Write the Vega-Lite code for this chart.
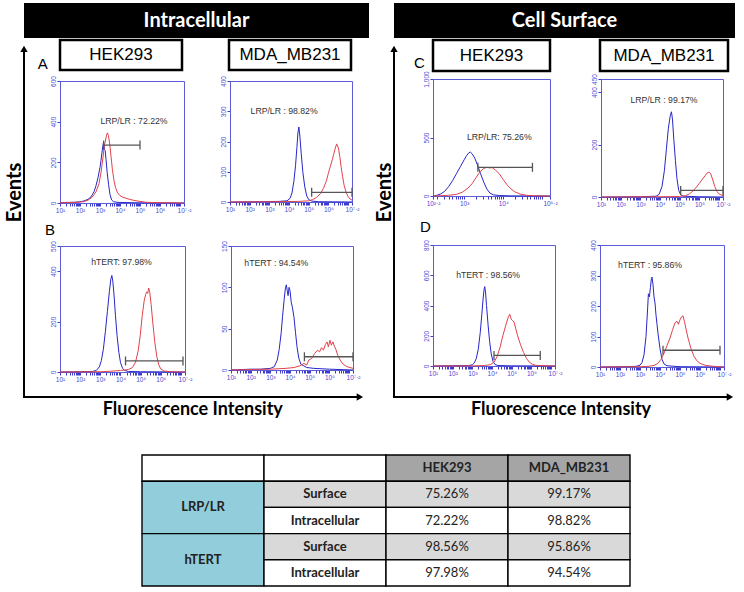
{
"padding": {"left": 4, "top": 3, "right": 0, "bottom": 0},
"config": {
  "view": {"stroke": null},
  "font": "Liberation Sans",
  "axisX": {"domainColor": "#5c5cd6", "tickColor": "#3c3cd0", "labelColor": "#4a4ad4", "labelFontSize": 6.5, "labelFont": "Liberation Sans", "tickSize": 3, "labelPadding": 1, "grid": false},
  "axisY": {"domainColor": "#5c5cd6", "tickColor": "#3c3cd0", "labelColor": "#4a4ad4", "labelFontSize": 6.5, "labelFont": "Liberation Sans", "tickSize": 3, "labelPadding": 1, "labelAngle": 270, "grid": false}
},
"datasets": {
"hist": [
{"panel":"A1","stain":"control","fi":1,"events":2},{"panel":"A1","stain":"control","fi":1.4,"events":3},{"panel":"A1","stain":"control","fi":1.8,"events":4},{"panel":"A1","stain":"control","fi":2.0,"events":6},{"panel":"A1","stain":"control","fi":2.2,"events":10},{"panel":"A1","stain":"control","fi":2.4,"events":18},{"panel":"A1","stain":"control","fi":2.55,"events":30},{"panel":"A1","stain":"control","fi":2.7,"events":55},{"panel":"A1","stain":"control","fi":2.8,"events":85},{"panel":"A1","stain":"control","fi":2.9,"events":125},{"panel":"A1","stain":"control","fi":3.0,"events":175},{"panel":"A1","stain":"control","fi":3.05,"events":210},{"panel":"A1","stain":"control","fi":3.1,"events":250},{"panel":"A1","stain":"control","fi":3.15,"events":285},{"panel":"A1","stain":"control","fi":3.18,"events":300},{"panel":"A1","stain":"control","fi":3.22,"events":262},{"panel":"A1","stain":"control","fi":3.26,"events":258},{"panel":"A1","stain":"control","fi":3.3,"events":215},{"panel":"A1","stain":"control","fi":3.36,"events":150},{"panel":"A1","stain":"control","fi":3.43,"events":90},{"panel":"A1","stain":"control","fi":3.5,"events":42},{"panel":"A1","stain":"control","fi":3.58,"events":15},{"panel":"A1","stain":"control","fi":3.68,"events":6},{"panel":"A1","stain":"control","fi":3.9,"events":3},{"panel":"A1","stain":"control","fi":4.3,"events":2},{"panel":"A1","stain":"control","fi":5,"events":1},{"panel":"A1","stain":"control","fi":6,"events":1},{"panel":"A1","stain":"control","fi":7.2,"events":0},
{"panel":"A1","stain":"target","fi":1,"events":1},{"panel":"A1","stain":"target","fi":1.8,"events":3},{"panel":"A1","stain":"target","fi":2.2,"events":7},{"panel":"A1","stain":"target","fi":2.4,"events":14},{"panel":"A1","stain":"target","fi":2.6,"events":28},{"panel":"A1","stain":"target","fi":2.8,"events":55},{"panel":"A1","stain":"target","fi":2.95,"events":95},{"panel":"A1","stain":"target","fi":3.05,"events":150},{"panel":"A1","stain":"target","fi":3.15,"events":225},{"panel":"A1","stain":"target","fi":3.22,"events":285},{"panel":"A1","stain":"target","fi":3.27,"events":305},{"panel":"A1","stain":"target","fi":3.32,"events":330},{"panel":"A1","stain":"target","fi":3.37,"events":345},{"panel":"A1","stain":"target","fi":3.42,"events":332},{"panel":"A1","stain":"target","fi":3.48,"events":295},{"panel":"A1","stain":"target","fi":3.55,"events":230},{"panel":"A1","stain":"target","fi":3.62,"events":165},{"panel":"A1","stain":"target","fi":3.7,"events":110},{"panel":"A1","stain":"target","fi":3.78,"events":75},{"panel":"A1","stain":"target","fi":3.88,"events":50},{"panel":"A1","stain":"target","fi":4.0,"events":36},{"panel":"A1","stain":"target","fi":4.15,"events":28},{"panel":"A1","stain":"target","fi":4.35,"events":22},{"panel":"A1","stain":"target","fi":4.55,"events":16},{"panel":"A1","stain":"target","fi":4.8,"events":11},{"panel":"A1","stain":"target","fi":5.05,"events":7},{"panel":"A1","stain":"target","fi":5.35,"events":3},{"panel":"A1","stain":"target","fi":5.8,"events":2},{"panel":"A1","stain":"target","fi":6.5,"events":1},{"panel":"A1","stain":"target","fi":7.2,"events":0},
{"panel":"A2","stain":"control","fi":1,"events":0},{"panel":"A2","stain":"control","fi":2.5,"events":1},{"panel":"A2","stain":"control","fi":3.5,"events":2},{"panel":"A2","stain":"control","fi":3.9,"events":4},{"panel":"A2","stain":"control","fi":4.05,"events":12},{"panel":"A2","stain":"control","fi":4.15,"events":30},{"panel":"A2","stain":"control","fi":4.25,"events":70},{"panel":"A2","stain":"control","fi":4.33,"events":120},{"panel":"A2","stain":"control","fi":4.4,"events":180},{"panel":"A2","stain":"control","fi":4.45,"events":228},{"panel":"A2","stain":"control","fi":4.5,"events":248},{"panel":"A2","stain":"control","fi":4.55,"events":218},{"panel":"A2","stain":"control","fi":4.62,"events":160},{"panel":"A2","stain":"control","fi":4.7,"events":100},{"panel":"A2","stain":"control","fi":4.8,"events":50},{"panel":"A2","stain":"control","fi":4.9,"events":20},{"panel":"A2","stain":"control","fi":5.0,"events":8},{"panel":"A2","stain":"control","fi":5.15,"events":3},{"panel":"A2","stain":"control","fi":5.5,"events":1},{"panel":"A2","stain":"control","fi":7.2,"events":0},
{"panel":"A2","stain":"target","fi":1,"events":0},{"panel":"A2","stain":"target","fi":3.5,"events":1},{"panel":"A2","stain":"target","fi":4.5,"events":2},{"panel":"A2","stain":"target","fi":5.0,"events":4},{"panel":"A2","stain":"target","fi":5.2,"events":8},{"panel":"A2","stain":"target","fi":5.4,"events":15},{"panel":"A2","stain":"target","fi":5.6,"events":28},{"panel":"A2","stain":"target","fi":5.75,"events":45},{"panel":"A2","stain":"target","fi":5.9,"events":70},{"panel":"A2","stain":"target","fi":6.0,"events":95},{"panel":"A2","stain":"target","fi":6.1,"events":118},{"panel":"A2","stain":"target","fi":6.2,"events":140},{"panel":"A2","stain":"target","fi":6.28,"events":160},{"panel":"A2","stain":"target","fi":6.35,"events":178},{"panel":"A2","stain":"target","fi":6.42,"events":192},{"panel":"A2","stain":"target","fi":6.47,"events":185},{"panel":"A2","stain":"target","fi":6.52,"events":175},{"panel":"A2","stain":"target","fi":6.58,"events":150},{"panel":"A2","stain":"target","fi":6.65,"events":115},{"panel":"A2","stain":"target","fi":6.72,"events":85},{"panel":"A2","stain":"target","fi":6.8,"events":55},{"panel":"A2","stain":"target","fi":6.9,"events":32},{"panel":"A2","stain":"target","fi":7.0,"events":18},{"panel":"A2","stain":"target","fi":7.1,"events":10},{"panel":"A2","stain":"target","fi":7.2,"events":6},
{"panel":"B1","stain":"control","fi":1,"events":0},{"panel":"B1","stain":"control","fi":2,"events":1},{"panel":"B1","stain":"control","fi":2.6,"events":2},{"panel":"B1","stain":"control","fi":2.8,"events":6},{"panel":"B1","stain":"control","fi":2.95,"events":20},{"panel":"B1","stain":"control","fi":3.05,"events":45},{"panel":"B1","stain":"control","fi":3.15,"events":90},{"panel":"B1","stain":"control","fi":3.25,"events":160},{"panel":"B1","stain":"control","fi":3.35,"events":240},{"panel":"B1","stain":"control","fi":3.45,"events":320},{"panel":"B1","stain":"control","fi":3.52,"events":368},{"panel":"B1","stain":"control","fi":3.57,"events":383},{"panel":"B1","stain":"control","fi":3.62,"events":360},{"panel":"B1","stain":"control","fi":3.68,"events":305},{"panel":"B1","stain":"control","fi":3.75,"events":225},{"panel":"B1","stain":"control","fi":3.83,"events":145},{"panel":"B1","stain":"control","fi":3.92,"events":78},{"panel":"B1","stain":"control","fi":4.0,"events":38},{"panel":"B1","stain":"control","fi":4.1,"events":15},{"panel":"B1","stain":"control","fi":4.2,"events":6},{"panel":"B1","stain":"control","fi":4.4,"events":2},{"panel":"B1","stain":"control","fi":5,"events":1},{"panel":"B1","stain":"control","fi":7.2,"events":0},
{"panel":"B1","stain":"target","fi":1,"events":0},{"panel":"B1","stain":"target","fi":3,"events":1},{"panel":"B1","stain":"target","fi":3.5,"events":3},{"panel":"B1","stain":"target","fi":4.0,"events":6},{"panel":"B1","stain":"target","fi":4.4,"events":10},{"panel":"B1","stain":"target","fi":4.6,"events":18},{"panel":"B1","stain":"target","fi":4.75,"events":40},{"panel":"B1","stain":"target","fi":4.88,"events":85},{"panel":"B1","stain":"target","fi":4.98,"events":145},{"panel":"B1","stain":"target","fi":5.08,"events":225},{"panel":"B1","stain":"target","fi":5.18,"events":285},{"panel":"B1","stain":"target","fi":5.25,"events":308},{"panel":"B1","stain":"target","fi":5.3,"events":318},{"panel":"B1","stain":"target","fi":5.35,"events":312},{"panel":"B1","stain":"target","fi":5.4,"events":333},{"panel":"B1","stain":"target","fi":5.45,"events":318},{"panel":"B1","stain":"target","fi":5.52,"events":268},{"panel":"B1","stain":"target","fi":5.6,"events":198},{"panel":"B1","stain":"target","fi":5.7,"events":120},{"panel":"B1","stain":"target","fi":5.8,"events":62},{"panel":"B1","stain":"target","fi":5.9,"events":28},{"panel":"B1","stain":"target","fi":6.0,"events":12},{"panel":"B1","stain":"target","fi":6.15,"events":4},{"panel":"B1","stain":"target","fi":6.5,"events":1},{"panel":"B1","stain":"target","fi":7.2,"events":0},
{"panel":"B2","stain":"control","fi":1,"events":0},{"panel":"B2","stain":"control","fi":2,"events":1},{"panel":"B2","stain":"control","fi":2.5,"events":1},{"panel":"B2","stain":"control","fi":3.0,"events":2},{"panel":"B2","stain":"control","fi":3.2,"events":4},{"panel":"B2","stain":"control","fi":3.35,"events":12},{"panel":"B2","stain":"control","fi":3.45,"events":25},{"panel":"B2","stain":"control","fi":3.55,"events":45},{"panel":"B2","stain":"control","fi":3.62,"events":65},{"panel":"B2","stain":"control","fi":3.7,"events":85},{"panel":"B2","stain":"control","fi":3.76,"events":98},{"panel":"B2","stain":"control","fi":3.81,"events":103},{"panel":"B2","stain":"control","fi":3.86,"events":96},{"panel":"B2","stain":"control","fi":3.9,"events":90},{"panel":"B2","stain":"control","fi":3.95,"events":100},{"panel":"B2","stain":"control","fi":4.0,"events":96},{"panel":"B2","stain":"control","fi":4.06,"events":82},{"panel":"B2","stain":"control","fi":4.12,"events":76},{"panel":"B2","stain":"control","fi":4.2,"events":64},{"panel":"B2","stain":"control","fi":4.28,"events":45},{"panel":"B2","stain":"control","fi":4.36,"events":27},{"panel":"B2","stain":"control","fi":4.45,"events":14},{"panel":"B2","stain":"control","fi":4.55,"events":7},{"panel":"B2","stain":"control","fi":4.7,"events":5},{"panel":"B2","stain":"control","fi":4.85,"events":3},{"panel":"B2","stain":"control","fi":5.2,"events":2},{"panel":"B2","stain":"control","fi":6,"events":1},{"panel":"B2","stain":"control","fi":7.2,"events":0},
{"panel":"B2","stain":"target","fi":1,"events":0},{"panel":"B2","stain":"target","fi":3,"events":1},{"panel":"B2","stain":"target","fi":3.8,"events":2},{"panel":"B2","stain":"target","fi":4.2,"events":3},{"panel":"B2","stain":"target","fi":4.5,"events":5},{"panel":"B2","stain":"target","fi":4.7,"events":8},{"panel":"B2","stain":"target","fi":4.85,"events":6},{"panel":"B2","stain":"target","fi":4.95,"events":12},{"panel":"B2","stain":"target","fi":5.1,"events":14},{"panel":"B2","stain":"target","fi":5.25,"events":20},{"panel":"B2","stain":"target","fi":5.4,"events":24},{"panel":"B2","stain":"target","fi":5.5,"events":22},{"panel":"B2","stain":"target","fi":5.6,"events":27},{"panel":"B2","stain":"target","fi":5.7,"events":24},{"panel":"B2","stain":"target","fi":5.8,"events":31},{"panel":"B2","stain":"target","fi":5.88,"events":34},{"panel":"B2","stain":"target","fi":5.95,"events":28},{"panel":"B2","stain":"target","fi":6.03,"events":36},{"panel":"B2","stain":"target","fi":6.1,"events":30},{"panel":"B2","stain":"target","fi":6.18,"events":34},{"panel":"B2","stain":"target","fi":6.25,"events":29},{"panel":"B2","stain":"target","fi":6.33,"events":25},{"panel":"B2","stain":"target","fi":6.42,"events":18},{"panel":"B2","stain":"target","fi":6.55,"events":12},{"panel":"B2","stain":"target","fi":6.7,"events":7},{"panel":"B2","stain":"target","fi":6.9,"events":4},{"panel":"B2","stain":"target","fi":7.05,"events":3},{"panel":"B2","stain":"target","fi":7.2,"events":2},
{"panel":"C1","stain":"control","fi":2.2,"events":0},{"panel":"C1","stain":"control","fi":2.3,"events":6},{"panel":"C1","stain":"control","fi":2.4,"events":18},{"panel":"C1","stain":"control","fi":2.5,"events":40},{"panel":"C1","stain":"control","fi":2.6,"events":80},{"panel":"C1","stain":"control","fi":2.7,"events":130},{"panel":"C1","stain":"control","fi":2.8,"events":190},{"panel":"C1","stain":"control","fi":2.9,"events":250},{"panel":"C1","stain":"control","fi":3.0,"events":310},{"panel":"C1","stain":"control","fi":3.06,"events":345},{"panel":"C1","stain":"control","fi":3.12,"events":370},{"panel":"C1","stain":"control","fi":3.16,"events":375},{"panel":"C1","stain":"control","fi":3.2,"events":362},{"panel":"C1","stain":"control","fi":3.27,"events":325},{"panel":"C1","stain":"control","fi":3.34,"events":265},{"panel":"C1","stain":"control","fi":3.42,"events":190},{"panel":"C1","stain":"control","fi":3.5,"events":120},{"panel":"C1","stain":"control","fi":3.58,"events":60},{"panel":"C1","stain":"control","fi":3.66,"events":25},{"panel":"C1","stain":"control","fi":3.75,"events":10},{"panel":"C1","stain":"control","fi":3.9,"events":4},{"panel":"C1","stain":"control","fi":4.2,"events":1},{"panel":"C1","stain":"control","fi":5.2,"events":0},
{"panel":"C1","stain":"target","fi":2.2,"events":0},{"panel":"C1","stain":"target","fi":2.4,"events":3},{"panel":"C1","stain":"target","fi":2.6,"events":6},{"panel":"C1","stain":"target","fi":2.8,"events":14},{"panel":"C1","stain":"target","fi":2.95,"events":32},{"panel":"C1","stain":"target","fi":3.1,"events":68},{"panel":"C1","stain":"target","fi":3.2,"events":105},{"panel":"C1","stain":"target","fi":3.3,"events":155},{"panel":"C1","stain":"target","fi":3.4,"events":205},{"panel":"C1","stain":"target","fi":3.5,"events":235},{"panel":"C1","stain":"target","fi":3.58,"events":245},{"panel":"C1","stain":"target","fi":3.65,"events":240},{"panel":"C1","stain":"target","fi":3.72,"events":242},{"panel":"C1","stain":"target","fi":3.8,"events":222},{"panel":"C1","stain":"target","fi":3.9,"events":190},{"panel":"C1","stain":"target","fi":4.0,"events":140},{"panel":"C1","stain":"target","fi":4.1,"events":95},{"panel":"C1","stain":"target","fi":4.2,"events":60},{"panel":"C1","stain":"target","fi":4.3,"events":35},{"panel":"C1","stain":"target","fi":4.45,"events":15},{"panel":"C1","stain":"target","fi":4.6,"events":6},{"panel":"C1","stain":"target","fi":4.8,"events":2},{"panel":"C1","stain":"target","fi":5.2,"events":0},
{"panel":"C2","stain":"control","fi":1,"events":0},{"panel":"C2","stain":"control","fi":3,"events":1},{"panel":"C2","stain":"control","fi":3.8,"events":3},{"panel":"C2","stain":"control","fi":3.95,"events":10},{"panel":"C2","stain":"control","fi":4.1,"events":40},{"panel":"C2","stain":"control","fi":4.22,"events":100},{"panel":"C2","stain":"control","fi":4.32,"events":180},{"panel":"C2","stain":"control","fi":4.42,"events":260},{"panel":"C2","stain":"control","fi":4.52,"events":310},{"panel":"C2","stain":"control","fi":4.58,"events":325},{"panel":"C2","stain":"control","fi":4.63,"events":298},{"panel":"C2","stain":"control","fi":4.7,"events":220},{"panel":"C2","stain":"control","fi":4.78,"events":140},{"panel":"C2","stain":"control","fi":4.86,"events":70},{"panel":"C2","stain":"control","fi":4.95,"events":25},{"panel":"C2","stain":"control","fi":5.05,"events":8},{"panel":"C2","stain":"control","fi":5.2,"events":3},{"panel":"C2","stain":"control","fi":6,"events":1},{"panel":"C2","stain":"control","fi":7.2,"events":0},
{"panel":"C2","stain":"target","fi":1,"events":0},{"panel":"C2","stain":"target","fi":4,"events":1},{"panel":"C2","stain":"target","fi":5,"events":2},{"panel":"C2","stain":"target","fi":5.3,"events":5},{"panel":"C2","stain":"target","fi":5.5,"events":12},{"panel":"C2","stain":"target","fi":5.7,"events":25},{"panel":"C2","stain":"target","fi":5.85,"events":38},{"panel":"C2","stain":"target","fi":6.0,"events":52},{"panel":"C2","stain":"target","fi":6.15,"events":68},{"panel":"C2","stain":"target","fi":6.3,"events":82},{"panel":"C2","stain":"target","fi":6.4,"events":92},{"panel":"C2","stain":"target","fi":6.5,"events":95},{"panel":"C2","stain":"target","fi":6.58,"events":88},{"panel":"C2","stain":"target","fi":6.68,"events":65},{"panel":"C2","stain":"target","fi":6.78,"events":40},{"panel":"C2","stain":"target","fi":6.9,"events":20},{"panel":"C2","stain":"target","fi":7.0,"events":12},{"panel":"C2","stain":"target","fi":7.1,"events":8},{"panel":"C2","stain":"target","fi":7.2,"events":5},
{"panel":"D1","stain":"control","fi":1,"events":0},{"panel":"D1","stain":"control","fi":2,"events":2},{"panel":"D1","stain":"control","fi":2.8,"events":3},{"panel":"D1","stain":"control","fi":3.0,"events":8},{"panel":"D1","stain":"control","fi":3.1,"events":20},{"panel":"D1","stain":"control","fi":3.2,"events":50},{"panel":"D1","stain":"control","fi":3.3,"events":110},{"panel":"D1","stain":"control","fi":3.4,"events":220},{"panel":"D1","stain":"control","fi":3.48,"events":340},{"panel":"D1","stain":"control","fi":3.55,"events":450},{"panel":"D1","stain":"control","fi":3.6,"events":510},{"panel":"D1","stain":"control","fi":3.63,"events":525},{"panel":"D1","stain":"control","fi":3.67,"events":490},{"panel":"D1","stain":"control","fi":3.72,"events":400},{"panel":"D1","stain":"control","fi":3.8,"events":270},{"panel":"D1","stain":"control","fi":3.88,"events":160},{"panel":"D1","stain":"control","fi":3.96,"events":80},{"panel":"D1","stain":"control","fi":4.05,"events":30},{"panel":"D1","stain":"control","fi":4.15,"events":10},{"panel":"D1","stain":"control","fi":4.3,"events":3},{"panel":"D1","stain":"control","fi":5,"events":1},{"panel":"D1","stain":"control","fi":7.2,"events":0},
{"panel":"D1","stain":"target","fi":1,"events":0},{"panel":"D1","stain":"target","fi":3,"events":1},{"panel":"D1","stain":"target","fi":3.6,"events":3},{"panel":"D1","stain":"target","fi":3.9,"events":8},{"panel":"D1","stain":"target","fi":4.1,"events":25},{"panel":"D1","stain":"target","fi":4.25,"events":60},{"panel":"D1","stain":"target","fi":4.4,"events":120},{"panel":"D1","stain":"target","fi":4.55,"events":200},{"panel":"D1","stain":"target","fi":4.7,"events":270},{"panel":"D1","stain":"target","fi":4.82,"events":320},{"panel":"D1","stain":"target","fi":4.9,"events":342},{"panel":"D1","stain":"target","fi":4.97,"events":310},{"panel":"D1","stain":"target","fi":5.05,"events":300},{"panel":"D1","stain":"target","fi":5.12,"events":290},{"panel":"D1","stain":"target","fi":5.2,"events":250},{"panel":"D1","stain":"target","fi":5.3,"events":200},{"panel":"D1","stain":"target","fi":5.45,"events":140},{"panel":"D1","stain":"target","fi":5.6,"events":90},{"panel":"D1","stain":"target","fi":5.75,"events":50},{"panel":"D1","stain":"target","fi":5.9,"events":25},{"panel":"D1","stain":"target","fi":6.05,"events":12},{"panel":"D1","stain":"target","fi":6.2,"events":5},{"panel":"D1","stain":"target","fi":6.5,"events":2},{"panel":"D1","stain":"target","fi":7.2,"events":0},
{"panel":"D2","stain":"control","fi":1,"events":0},{"panel":"D2","stain":"control","fi":2,"events":1},{"panel":"D2","stain":"control","fi":2.8,"events":2},{"panel":"D2","stain":"control","fi":3.0,"events":6},{"panel":"D2","stain":"control","fi":3.1,"events":15},{"panel":"D2","stain":"control","fi":3.2,"events":40},{"panel":"D2","stain":"control","fi":3.3,"events":100},{"panel":"D2","stain":"control","fi":3.38,"events":190},{"panel":"D2","stain":"control","fi":3.42,"events":240},{"panel":"D2","stain":"control","fi":3.47,"events":230},{"panel":"D2","stain":"control","fi":3.52,"events":260},{"panel":"D2","stain":"control","fi":3.57,"events":290},{"panel":"D2","stain":"control","fi":3.6,"events":295},{"panel":"D2","stain":"control","fi":3.65,"events":270},{"panel":"D2","stain":"control","fi":3.7,"events":230},{"panel":"D2","stain":"control","fi":3.75,"events":210},{"panel":"D2","stain":"control","fi":3.8,"events":170},{"panel":"D2","stain":"control","fi":3.85,"events":140},{"panel":"D2","stain":"control","fi":3.9,"events":110},{"panel":"D2","stain":"control","fi":4.0,"events":60},{"panel":"D2","stain":"control","fi":4.1,"events":25},{"panel":"D2","stain":"control","fi":4.2,"events":10},{"panel":"D2","stain":"control","fi":4.35,"events":4},{"panel":"D2","stain":"control","fi":5,"events":1},{"panel":"D2","stain":"control","fi":7.2,"events":0},
{"panel":"D2","stain":"target","fi":1,"events":0},{"panel":"D2","stain":"target","fi":3,"events":1},{"panel":"D2","stain":"target","fi":3.4,"events":2},{"panel":"D2","stain":"target","fi":3.7,"events":5},{"panel":"D2","stain":"target","fi":3.9,"events":12},{"panel":"D2","stain":"target","fi":4.05,"events":25},{"panel":"D2","stain":"target","fi":4.2,"events":45},{"panel":"D2","stain":"target","fi":4.35,"events":70},{"panel":"D2","stain":"target","fi":4.5,"events":95},{"panel":"D2","stain":"target","fi":4.62,"events":120},{"panel":"D2","stain":"target","fi":4.75,"events":145},{"panel":"D2","stain":"target","fi":4.85,"events":150},{"panel":"D2","stain":"target","fi":4.92,"events":140},{"panel":"D2","stain":"target","fi":5.0,"events":155},{"panel":"D2","stain":"target","fi":5.08,"events":165},{"panel":"D2","stain":"target","fi":5.15,"events":168},{"panel":"D2","stain":"target","fi":5.22,"events":150},{"panel":"D2","stain":"target","fi":5.3,"events":125},{"panel":"D2","stain":"target","fi":5.4,"events":95},{"panel":"D2","stain":"target","fi":5.55,"events":60},{"panel":"D2","stain":"target","fi":5.7,"events":35},{"panel":"D2","stain":"target","fi":5.85,"events":20},{"panel":"D2","stain":"target","fi":6.0,"events":12},{"panel":"D2","stain":"target","fi":6.3,"events":5},{"panel":"D2","stain":"target","fi":6.7,"events":2},{"panel":"D2","stain":"target","fi":7.2,"events":0}
],
"gates": [
{"panel":"A1","from":3.18,"to":5.0,"events":285},
{"panel":"A2","from":5.15,"to":7.2,"events":32},
{"panel":"B1","from":4.25,"to":7.1,"events":44},
{"panel":"B2","from":4.73,"to":7.2,"events":16},
{"panel":"C1","from":3.35,"to":4.75,"events":245},
{"panel":"C2","from":5.05,"to":7.2,"events":25},
{"panel":"D1","from":4.1,"to":6.45,"events":70},
{"panel":"D2","from":4.15,"to":7.0,"events":55}
],
"notes": [
{"panel":"A1","fi":4.7,"events":405,"note":"LRP/LR : 72.22%"},
{"panel":"A2","fi":3.75,"events":302,"note":"LRP/LR : 98.82%"},
{"panel":"B1","fi":4.05,"events":435,"note":"hTERT: 97.98%"},
{"panel":"B2","fi":3.3,"events":129,"note":"hTERT : 94.54%"},
{"panel":"C1","fi":3.9,"events":505,"note":"LRP/LR: 75.26%"},
{"panel":"C2","fi":4.2,"events":370,"note":"LRP/LR : 99.17%"},
{"panel":"D1","fi":3.8,"events":602,"note":"hTERT : 98.56%"},
{"panel":"D2","fi":3.5,"events":334,"note":"hTERT : 95.86%"}
],
"table": [
{"r0":0,"r1":1,"c0":0,"c1":1,"rm":0.5,"cm":0.5,"kind":"blank","label":""},
{"r0":0,"r1":1,"c0":1,"c1":2,"rm":0.5,"cm":1.5,"kind":"blank","label":""},
{"r0":0,"r1":1,"c0":2,"c1":3,"rm":0.5,"cm":2.5,"kind":"head","label":"HEK293"},
{"r0":0,"r1":1,"c0":3,"c1":4,"rm":0.5,"cm":3.5,"kind":"head","label":"MDA_MB231"},
{"r0":1,"r1":3,"c0":0,"c1":1,"rm":2,"cm":0.5,"kind":"target","label":"LRP/LR"},
{"r0":1,"r1":2,"c0":1,"c1":2,"rm":1.5,"cm":1.5,"kind":"surface","label":"Surface"},
{"r0":1,"r1":2,"c0":2,"c1":3,"rm":1.5,"cm":2.5,"kind":"surfaceValue","label":"75.26%"},
{"r0":1,"r1":2,"c0":3,"c1":4,"rm":1.5,"cm":3.5,"kind":"surfaceValue","label":"99.17%"},
{"r0":2,"r1":3,"c0":1,"c1":2,"rm":2.5,"cm":1.5,"kind":"intra","label":"Intracellular"},
{"r0":2,"r1":3,"c0":2,"c1":3,"rm":2.5,"cm":2.5,"kind":"intraValue","label":"72.22%"},
{"r0":2,"r1":3,"c0":3,"c1":4,"rm":2.5,"cm":3.5,"kind":"intraValue","label":"98.82%"},
{"r0":3,"r1":5,"c0":0,"c1":1,"rm":4,"cm":0.5,"kind":"target","label":"hTERT"},
{"r0":3,"r1":4,"c0":1,"c1":2,"rm":3.5,"cm":1.5,"kind":"surface","label":"Surface"},
{"r0":3,"r1":4,"c0":2,"c1":3,"rm":3.5,"cm":2.5,"kind":"surfaceValue","label":"98.56%"},
{"r0":3,"r1":4,"c0":3,"c1":4,"rm":3.5,"cm":3.5,"kind":"surfaceValue","label":"95.86%"},
{"r0":4,"r1":5,"c0":1,"c1":2,"rm":4.5,"cm":1.5,"kind":"intra","label":"Intracellular"},
{"r0":4,"r1":5,"c0":2,"c1":3,"rm":4.5,"cm":2.5,"kind":"intraValue","label":"97.98%"},
{"r0":4,"r1":5,"c0":3,"c1":4,"rm":4.5,"cm":3.5,"kind":"intraValue","label":"94.54%"}
]
},
"spacing": 35,
"vconcat": [
{"spacing": 5, "hconcat": [
 {"spacing": 0, "vconcat": [
  {"width": 345, "height": 35, "view": {"fill": "black", "stroke": null}, "data": {"values": [{"line": "Intracellular"}]}, "mark": {"type": "text", "color": "white", "font": "Lato", "fontWeight": "bold", "fontSize": 20}, "encoding": {"text": {"field": "line", "type": "nominal"}}},
  {"spacing": -4, "vconcat": [
   {"spacing": 0, "hconcat": [
    {"width": 12, "height": 355, "data": {"values": [{}]}, "layer": [
      {"mark": {"type": "rule", "color": "black", "strokeWidth": 2, "strokeCap": "square"}, "encoding": {"x": {"datum": 0, "type": "quantitative", "scale": {"domain": [0, 1]}, "axis": null}, "y": {"datum": 0, "type": "quantitative", "scale": {"domain": [0, 1], "nice": false}, "axis": {"title": "Events", "domain": false, "ticks": false, "labels": false, "titleFont": "Lato", "titleFontSize": 20, "titleFontWeight": "bold", "titleColor": "black", "titlePadding": 0, "titleY": 152}}, "y2": {"datum": 0.975}}},
      {"mark": {"type": "point", "shape": "triangle-up", "filled": true, "size": 55, "color": "black", "opacity": 1}, "encoding": {"x": {"datum": 0, "type": "quantitative", "axis": null}, "y": {"datum": 0.975, "type": "quantitative", "title": "Events"}}}
    ]},
    {"spacing": 1, "vconcat": [
     {"spacing": 43, "hconcat": [
      {"width": 122, "height": 30, "view": {"stroke": "black", "strokeWidth": 2.5}, "data": {"values": [{"line": "HEK293"}]}, "layer": [
        {"mark": {"type": "text", "font": "Liberation Sans", "fontSize": 17, "color": "black"}, "encoding": {"text": {"field": "line", "type": "nominal"}}},
        {"mark": {"type": "text", "text": "A", "font": "Liberation Sans", "fontSize": 15, "align": "right", "baseline": "alphabetic", "color": "black"}, "encoding": {"x": {"datum": -0.1, "type": "quantitative", "scale": {"domain": [0, 1]}, "axis": null}, "y": {"datum": 0.03, "type": "quantitative", "scale": {"domain": [0, 1]}, "axis": null}}}
      ]},
      {"width": 122, "height": 30, "view": {"stroke": "black", "strokeWidth": 2.5}, "data": {"values": [{"line": "MDA_MB231"}]}, "mark": {"type": "text", "font": "Liberation Sans", "fontSize": 17, "color": "black"}, "encoding": {"text": {"field": "line", "type": "nominal"}}}
     ]},
     {"spacing": 8, "vconcat": [
      {"spacing": 27, "hconcat": [
       {"width": 124, "height": 122, "view": {"stroke": "#5c5cd6", "strokeWidth": 1}, "layer": [
        {"data": {"name": "hist"}, "transform": [{"filter": "datum.panel == 'A1'"}], "mark": {"type": "line", "strokeWidth": 1}, "encoding": {
          "x": {"field": "fi", "type": "quantitative", "title": null, "scale": {"domain": [1, 7.2], "nice": false, "zero": false}, "axis": {"title": null, "tickCount": 200, "labelOverlap": false, "labelFlush": false, "labelBound": false, "values": [1,1.301,1.477,1.602,1.699,1.778,1.845,1.903,1.954,2,2.301,2.477,2.602,2.699,2.778,2.845,2.903,2.954,3,3.301,3.477,3.602,3.699,3.778,3.845,3.903,3.954,4,4.301,4.477,4.602,4.699,4.778,4.845,4.903,4.954,5,5.301,5.477,5.602,5.699,5.778,5.845,5.903,5.954,6,6.301,6.477,6.602,6.699,6.778,6.845,6.903,6.954,7,7.2], "labelExpr": "datum.value == 1 ? '10¹' : datum.value == 2 ? '10²' : datum.value == 3 ? '10³' : datum.value == 4 ? '10⁴' : datum.value == 5 ? '10⁵' : datum.value == 6 ? '10⁶' : datum.value == 7.2 ? '10⁷·²' : ''"}},
          "y": {"field": "events", "type": "quantitative", "title": null, "scale": {"domain": [0, 600], "nice": false}, "axis": {"title": null, "tickCount": 200, "labelOverlap": false, "labelFlush": false, "values": [0, 200, 400, 600]}},
          "color": {"field": "stain", "type": "nominal", "scale": {"domain": ["control", "target"], "range": ["#2626c9", "#e2424b"]}, "legend": null}}},
        {"data": {"name": "gates"}, "transform": [{"filter": "datum.panel == 'A1'"}], "mark": {"type": "rule", "color": "#555555", "strokeWidth": 1.3}, "encoding": {"x": {"field": "from", "type": "quantitative", "title": null}, "x2": {"field": "to"}, "y": {"field": "events", "type": "quantitative", "title": null}}},
        {"data": {"name": "gates"}, "transform": [{"filter": "datum.panel == 'A1'"}], "mark": {"type": "tick", "orient": "vertical", "size": 9, "thickness": 1.3, "color": "#555555", "opacity": 1}, "encoding": {"x": {"field": "from", "type": "quantitative", "title": null}, "y": {"field": "events", "type": "quantitative", "title": null}}},
        {"data": {"name": "gates"}, "transform": [{"filter": "datum.panel == 'A1'"}], "mark": {"type": "tick", "orient": "vertical", "size": 9, "thickness": 1.3, "color": "#555555", "opacity": 1}, "encoding": {"x": {"field": "to", "type": "quantitative", "title": null}, "y": {"field": "events", "type": "quantitative", "title": null}}},
        {"data": {"name": "notes"}, "transform": [{"filter": "datum.panel == 'A1'"}], "mark": {"type": "text", "font": "Liberation Sans", "fontSize": 8.7, "color": "#333333"}, "encoding": {"x": {"field": "fi", "type": "quantitative", "title": null}, "y": {"field": "events", "type": "quantitative", "title": null}, "text": {"field": "note", "type": "nominal"}}}
       ]},
       {"width": 122, "height": 121, "view": {"stroke": "#5c5cd6", "strokeWidth": 1}, "layer": [
        {"data": {"name": "hist"}, "transform": [{"filter": "datum.panel == 'A2'"}], "mark": {"type": "line", "strokeWidth": 1}, "encoding": {
          "x": {"field": "fi", "type": "quantitative", "title": null, "scale": {"domain": [1, 7.2], "nice": false, "zero": false}, "axis": {"title": null, "tickCount": 200, "labelOverlap": false, "labelFlush": false, "labelBound": false, "values": [1,1.301,1.477,1.602,1.699,1.778,1.845,1.903,1.954,2,2.301,2.477,2.602,2.699,2.778,2.845,2.903,2.954,3,3.301,3.477,3.602,3.699,3.778,3.845,3.903,3.954,4,4.301,4.477,4.602,4.699,4.778,4.845,4.903,4.954,5,5.301,5.477,5.602,5.699,5.778,5.845,5.903,5.954,6,6.301,6.477,6.602,6.699,6.778,6.845,6.903,6.954,7,7.2], "labelExpr": "datum.value == 1 ? '10¹' : datum.value == 2 ? '10²' : datum.value == 3 ? '10³' : datum.value == 4 ? '10⁴' : datum.value == 5 ? '10⁵' : datum.value == 6 ? '10⁶' : datum.value == 7.2 ? '10⁷·²' : ''"}},
          "y": {"field": "events", "type": "quantitative", "title": null, "scale": {"domain": [0, 400], "nice": false}, "axis": {"title": null, "tickCount": 200, "labelOverlap": false, "labelFlush": false, "values": [0, 100, 200, 300, 400]}},
          "color": {"field": "stain", "type": "nominal", "scale": {"domain": ["control", "target"], "range": ["#2626c9", "#e2424b"]}, "legend": null}}},
        {"data": {"name": "gates"}, "transform": [{"filter": "datum.panel == 'A2'"}], "mark": {"type": "rule", "color": "#555555", "strokeWidth": 1.3}, "encoding": {"x": {"field": "from", "type": "quantitative", "title": null}, "x2": {"field": "to"}, "y": {"field": "events", "type": "quantitative", "title": null}}},
        {"data": {"name": "gates"}, "transform": [{"filter": "datum.panel == 'A2'"}], "mark": {"type": "tick", "orient": "vertical", "size": 9, "thickness": 1.3, "color": "#555555", "opacity": 1}, "encoding": {"x": {"field": "from", "type": "quantitative", "title": null}, "y": {"field": "events", "type": "quantitative", "title": null}}},
        {"data": {"name": "gates"}, "transform": [{"filter": "datum.panel == 'A2'"}], "mark": {"type": "tick", "orient": "vertical", "size": 9, "thickness": 1.3, "color": "#555555", "opacity": 1}, "encoding": {"x": {"field": "to", "type": "quantitative", "title": null}, "y": {"field": "events", "type": "quantitative", "title": null}}},
        {"data": {"name": "notes"}, "transform": [{"filter": "datum.panel == 'A2'"}], "mark": {"type": "text", "font": "Liberation Sans", "fontSize": 8.7, "color": "#333333"}, "encoding": {"x": {"field": "fi", "type": "quantitative", "title": null}, "y": {"field": "events", "type": "quantitative", "title": null}, "text": {"field": "note", "type": "nominal"}}}
       ]}
      ]},
      {"spacing": 27, "hconcat": [
       {"width": 125, "height": 126, "view": {"stroke": "#5c5cd6", "strokeWidth": 1}, "title": {"text": "B", "anchor": "start", "frame": "group", "dx": -15, "offset": 3, "fontSize": 15, "fontWeight": "normal", "font": "Liberation Sans", "color": "black"}, "layer": [
        {"data": {"name": "hist"}, "transform": [{"filter": "datum.panel == 'B1'"}], "mark": {"type": "line", "strokeWidth": 1}, "encoding": {
          "x": {"field": "fi", "type": "quantitative", "title": null, "scale": {"domain": [1, 7.2], "nice": false, "zero": false}, "axis": {"title": null, "tickCount": 200, "labelOverlap": false, "labelFlush": false, "labelBound": false, "values": [1,1.301,1.477,1.602,1.699,1.778,1.845,1.903,1.954,2,2.301,2.477,2.602,2.699,2.778,2.845,2.903,2.954,3,3.301,3.477,3.602,3.699,3.778,3.845,3.903,3.954,4,4.301,4.477,4.602,4.699,4.778,4.845,4.903,4.954,5,5.301,5.477,5.602,5.699,5.778,5.845,5.903,5.954,6,6.301,6.477,6.602,6.699,6.778,6.845,6.903,6.954,7,7.2], "labelExpr": "datum.value == 1 ? '10¹' : datum.value == 2 ? '10²' : datum.value == 3 ? '10³' : datum.value == 4 ? '10⁴' : datum.value == 5 ? '10⁵' : datum.value == 6 ? '10⁶' : datum.value == 7.2 ? '10⁷·²' : ''"}},
          "y": {"field": "events", "type": "quantitative", "title": null, "scale": {"domain": [0, 500], "nice": false}, "axis": {"title": null, "tickCount": 200, "labelOverlap": false, "labelFlush": false, "values": [0, 200, 400, 500]}},
          "color": {"field": "stain", "type": "nominal", "scale": {"domain": ["control", "target"], "range": ["#2626c9", "#e2424b"]}, "legend": null}}},
        {"data": {"name": "gates"}, "transform": [{"filter": "datum.panel == 'B1'"}], "mark": {"type": "rule", "color": "#555555", "strokeWidth": 1.3}, "encoding": {"x": {"field": "from", "type": "quantitative", "title": null}, "x2": {"field": "to"}, "y": {"field": "events", "type": "quantitative", "title": null}}},
        {"data": {"name": "gates"}, "transform": [{"filter": "datum.panel == 'B1'"}], "mark": {"type": "tick", "orient": "vertical", "size": 9, "thickness": 1.3, "color": "#555555", "opacity": 1}, "encoding": {"x": {"field": "from", "type": "quantitative", "title": null}, "y": {"field": "events", "type": "quantitative", "title": null}}},
        {"data": {"name": "gates"}, "transform": [{"filter": "datum.panel == 'B1'"}], "mark": {"type": "tick", "orient": "vertical", "size": 9, "thickness": 1.3, "color": "#555555", "opacity": 1}, "encoding": {"x": {"field": "to", "type": "quantitative", "title": null}, "y": {"field": "events", "type": "quantitative", "title": null}}},
        {"data": {"name": "notes"}, "transform": [{"filter": "datum.panel == 'B1'"}], "mark": {"type": "text", "font": "Liberation Sans", "fontSize": 8.7, "color": "#333333"}, "encoding": {"x": {"field": "fi", "type": "quantitative", "title": null}, "y": {"field": "events", "type": "quantitative", "title": null}, "text": {"field": "note", "type": "nominal"}}}
       ]},
       {"width": 122, "height": 124, "view": {"stroke": "#5c5cd6", "strokeWidth": 1}, "layer": [
        {"data": {"name": "hist"}, "transform": [{"filter": "datum.panel == 'B2'"}], "mark": {"type": "line", "strokeWidth": 1}, "encoding": {
          "x": {"field": "fi", "type": "quantitative", "title": null, "scale": {"domain": [1, 7.2], "nice": false, "zero": false}, "axis": {"title": null, "tickCount": 200, "labelOverlap": false, "labelFlush": false, "labelBound": false, "values": [1,1.301,1.477,1.602,1.699,1.778,1.845,1.903,1.954,2,2.301,2.477,2.602,2.699,2.778,2.845,2.903,2.954,3,3.301,3.477,3.602,3.699,3.778,3.845,3.903,3.954,4,4.301,4.477,4.602,4.699,4.778,4.845,4.903,4.954,5,5.301,5.477,5.602,5.699,5.778,5.845,5.903,5.954,6,6.301,6.477,6.602,6.699,6.778,6.845,6.903,6.954,7,7.2], "labelExpr": "datum.value == 1 ? '10¹' : datum.value == 2 ? '10²' : datum.value == 3 ? '10³' : datum.value == 4 ? '10⁴' : datum.value == 5 ? '10⁵' : datum.value == 6 ? '10⁶' : datum.value == 7.2 ? '10⁷·²' : ''"}},
          "y": {"field": "events", "type": "quantitative", "title": null, "scale": {"domain": [0, 150], "nice": false}, "axis": {"title": null, "tickCount": 200, "labelOverlap": false, "labelFlush": false, "values": [0, 50, 100, 150]}},
          "color": {"field": "stain", "type": "nominal", "scale": {"domain": ["control", "target"], "range": ["#2626c9", "#e2424b"]}, "legend": null}}},
        {"data": {"name": "gates"}, "transform": [{"filter": "datum.panel == 'B2'"}], "mark": {"type": "rule", "color": "#555555", "strokeWidth": 1.3}, "encoding": {"x": {"field": "from", "type": "quantitative", "title": null}, "x2": {"field": "to"}, "y": {"field": "events", "type": "quantitative", "title": null}}},
        {"data": {"name": "gates"}, "transform": [{"filter": "datum.panel == 'B2'"}], "mark": {"type": "tick", "orient": "vertical", "size": 9, "thickness": 1.3, "color": "#555555", "opacity": 1}, "encoding": {"x": {"field": "from", "type": "quantitative", "title": null}, "y": {"field": "events", "type": "quantitative", "title": null}}},
        {"data": {"name": "gates"}, "transform": [{"filter": "datum.panel == 'B2'"}], "mark": {"type": "tick", "orient": "vertical", "size": 9, "thickness": 1.3, "color": "#555555", "opacity": 1}, "encoding": {"x": {"field": "to", "type": "quantitative", "title": null}, "y": {"field": "events", "type": "quantitative", "title": null}}},
        {"data": {"name": "notes"}, "transform": [{"filter": "datum.panel == 'B2'"}], "mark": {"type": "text", "font": "Liberation Sans", "fontSize": 8.7, "color": "#333333"}, "encoding": {"x": {"field": "fi", "type": "quantitative", "title": null}, "y": {"field": "events", "type": "quantitative", "title": null}, "text": {"field": "note", "type": "nominal"}}}
       ]}
      ]}
     ]}
    ]}
   ]},
   {"width": 341, "height": 22, "data": {"values": [{}]}, "layer": [
     {"mark": {"type": "rule", "color": "black", "strokeWidth": 2}, "encoding": {"x": {"datum": -0.003, "type": "quantitative", "scale": {"domain": [0, 1]}, "axis": null}, "x2": {"datum": 0.985}, "y": {"datum": 1, "type": "quantitative", "scale": {"domain": [0, 1]}, "axis": null}}},
     {"mark": {"type": "point", "shape": "triangle-right", "filled": true, "size": 55, "color": "black", "opacity": 1}, "encoding": {"x": {"datum": 0.985, "type": "quantitative", "axis": null}, "y": {"datum": 1, "type": "quantitative", "axis": null}}},
     {"mark": {"type": "text", "text": "Fluorescence Intensity", "font": "Lato", "fontWeight": "bold", "fontSize": 18, "baseline": "bottom", "color": "black"}, "encoding": {"x": {"datum": 0.495, "type": "quantitative", "axis": null}, "y": {"datum": 0, "type": "quantitative", "axis": null}}}
   ]}
  ]}
 ]},
 {"spacing": 0, "vconcat": [
  {"width": 341, "height": 35, "view": {"fill": "black", "stroke": null}, "data": {"values": [{"line": "Cell Surface"}]}, "mark": {"type": "text", "color": "white", "font": "Lato", "fontWeight": "bold", "fontSize": 20}, "encoding": {"text": {"field": "line", "type": "nominal"}}},
  {"spacing": -4, "vconcat": [
   {"spacing": 0, "hconcat": [
    {"width": 18, "height": 355, "data": {"values": [{}]}, "layer": [
      {"mark": {"type": "rule", "color": "black", "strokeWidth": 2, "strokeCap": "square"}, "encoding": {"x": {"datum": 0, "type": "quantitative", "scale": {"domain": [0, 1]}, "axis": null}, "y": {"datum": 0, "type": "quantitative", "scale": {"domain": [0, 1], "nice": false}, "axis": {"title": "Events", "domain": false, "ticks": false, "labels": false, "titleFont": "Lato", "titleFontSize": 20, "titleFontWeight": "bold", "titleColor": "black", "titlePadding": 0, "titleY": 152}}, "y2": {"datum": 0.975}}},
      {"mark": {"type": "point", "shape": "triangle-up", "filled": true, "size": 55, "color": "black", "opacity": 1}, "encoding": {"x": {"datum": 0, "type": "quantitative", "axis": null}, "y": {"datum": 0.975, "type": "quantitative", "title": "Events"}}}
    ]},
    {"spacing": -3, "vconcat": [
     {"spacing": 46, "hconcat": [
      {"width": 117, "height": 31, "view": {"stroke": "black", "strokeWidth": 2.5}, "data": {"values": [{"line": "HEK293"}]}, "layer": [
        {"mark": {"type": "text", "font": "Liberation Sans", "fontSize": 17, "color": "black"}, "encoding": {"text": {"field": "line", "type": "nominal"}}},
        {"mark": {"type": "text", "text": "C", "font": "Liberation Sans", "fontSize": 15, "align": "right", "baseline": "alphabetic", "color": "black"}, "encoding": {"x": {"datum": -0.07, "type": "quantitative", "scale": {"domain": [0, 1]}, "axis": null}, "y": {"datum": 0.1, "type": "quantitative", "scale": {"domain": [0, 1]}, "axis": null}}}
      ]},
      {"width": 128, "height": 31, "view": {"stroke": "black", "strokeWidth": 2.5}, "data": {"values": [{"line": "MDA_MB231"}]}, "mark": {"type": "text", "font": "Liberation Sans", "fontSize": 17, "color": "black"}, "encoding": {"text": {"field": "line", "type": "nominal"}}}
     ]},
     {"spacing": 11, "vconcat": [
      {"spacing": 32, "hconcat": [
       {"width": 117, "height": 117, "view": {"stroke": "#5c5cd6", "strokeWidth": 1}, "layer": [
        {"data": {"name": "hist"}, "transform": [{"filter": "datum.panel == 'C1'"}], "mark": {"type": "line", "strokeWidth": 1}, "encoding": {
          "x": {"field": "fi", "type": "quantitative", "title": null, "scale": {"domain": [2.2, 5.2], "nice": false, "zero": false}, "axis": {"title": null, "tickCount": 200, "labelOverlap": false, "labelFlush": false, "labelBound": false, "values": [2.2,2.301,2.477,2.602,2.699,2.778,2.845,2.903,2.954,3,3.301,3.477,3.602,3.699,3.778,3.845,3.903,3.954,4,4.301,4.477,4.602,4.699,4.778,4.845,4.903,4.954,5,5.2], "labelExpr": "datum.value == 2.2 ? '10²·²' : datum.value == 3 ? '10³' : datum.value == 4 ? '10⁴' : datum.value == 5.2 ? '10⁵·²' : ''"}},
          "y": {"field": "events", "type": "quantitative", "title": null, "scale": {"domain": [0, 1000], "nice": false}, "axis": {"title": null, "tickCount": 200, "labelOverlap": false, "labelFlush": false, "values": [0, 500, 1000]}},
          "color": {"field": "stain", "type": "nominal", "scale": {"domain": ["control", "target"], "range": ["#2626c9", "#e2424b"]}, "legend": null}}},
        {"data": {"name": "gates"}, "transform": [{"filter": "datum.panel == 'C1'"}], "mark": {"type": "rule", "color": "#555555", "strokeWidth": 1.3}, "encoding": {"x": {"field": "from", "type": "quantitative", "title": null}, "x2": {"field": "to"}, "y": {"field": "events", "type": "quantitative", "title": null}}},
        {"data": {"name": "gates"}, "transform": [{"filter": "datum.panel == 'C1'"}], "mark": {"type": "tick", "orient": "vertical", "size": 9, "thickness": 1.3, "color": "#555555", "opacity": 1}, "encoding": {"x": {"field": "from", "type": "quantitative", "title": null}, "y": {"field": "events", "type": "quantitative", "title": null}}},
        {"data": {"name": "gates"}, "transform": [{"filter": "datum.panel == 'C1'"}], "mark": {"type": "tick", "orient": "vertical", "size": 9, "thickness": 1.3, "color": "#555555", "opacity": 1}, "encoding": {"x": {"field": "to", "type": "quantitative", "title": null}, "y": {"field": "events", "type": "quantitative", "title": null}}},
        {"data": {"name": "notes"}, "transform": [{"filter": "datum.panel == 'C1'"}], "mark": {"type": "text", "font": "Liberation Sans", "fontSize": 8.7, "color": "#333333"}, "encoding": {"x": {"field": "fi", "type": "quantitative", "title": null}, "y": {"field": "events", "type": "quantitative", "title": null}, "text": {"field": "note", "type": "nominal"}}}
       ]},
       {"width": 122, "height": 118, "view": {"stroke": "#5c5cd6", "strokeWidth": 1}, "layer": [
        {"data": {"name": "hist"}, "transform": [{"filter": "datum.panel == 'C2'"}], "mark": {"type": "line", "strokeWidth": 1}, "encoding": {
          "x": {"field": "fi", "type": "quantitative", "title": null, "scale": {"domain": [1, 7.2], "nice": false, "zero": false}, "axis": {"title": null, "tickCount": 200, "labelOverlap": false, "labelFlush": false, "labelBound": false, "values": [1,1.301,1.477,1.602,1.699,1.778,1.845,1.903,1.954,2,2.301,2.477,2.602,2.699,2.778,2.845,2.903,2.954,3,3.301,3.477,3.602,3.699,3.778,3.845,3.903,3.954,4,4.301,4.477,4.602,4.699,4.778,4.845,4.903,4.954,5,5.301,5.477,5.602,5.699,5.778,5.845,5.903,5.954,6,6.301,6.477,6.602,6.699,6.778,6.845,6.903,6.954,7,7.2], "labelExpr": "datum.value == 1 ? '10¹' : datum.value == 2 ? '10²' : datum.value == 3 ? '10³' : datum.value == 4 ? '10⁴' : datum.value == 5 ? '10⁵' : datum.value == 6 ? '10⁶' : datum.value == 7.2 ? '10⁷·²' : ''"}},
          "y": {"field": "events", "type": "quantitative", "title": null, "scale": {"domain": [0, 450], "nice": false}, "axis": {"title": null, "tickCount": 200, "labelOverlap": false, "labelFlush": false, "values": [0, 200, 400, 450]}},
          "color": {"field": "stain", "type": "nominal", "scale": {"domain": ["control", "target"], "range": ["#2626c9", "#e2424b"]}, "legend": null}}},
        {"data": {"name": "gates"}, "transform": [{"filter": "datum.panel == 'C2'"}], "mark": {"type": "rule", "color": "#555555", "strokeWidth": 1.3}, "encoding": {"x": {"field": "from", "type": "quantitative", "title": null}, "x2": {"field": "to"}, "y": {"field": "events", "type": "quantitative", "title": null}}},
        {"data": {"name": "gates"}, "transform": [{"filter": "datum.panel == 'C2'"}], "mark": {"type": "tick", "orient": "vertical", "size": 9, "thickness": 1.3, "color": "#555555", "opacity": 1}, "encoding": {"x": {"field": "from", "type": "quantitative", "title": null}, "y": {"field": "events", "type": "quantitative", "title": null}}},
        {"data": {"name": "gates"}, "transform": [{"filter": "datum.panel == 'C2'"}], "mark": {"type": "tick", "orient": "vertical", "size": 9, "thickness": 1.3, "color": "#555555", "opacity": 1}, "encoding": {"x": {"field": "to", "type": "quantitative", "title": null}, "y": {"field": "events", "type": "quantitative", "title": null}}},
        {"data": {"name": "notes"}, "transform": [{"filter": "datum.panel == 'C2'"}], "mark": {"type": "text", "font": "Liberation Sans", "fontSize": 8.7, "color": "#333333"}, "encoding": {"x": {"field": "fi", "type": "quantitative", "title": null}, "y": {"field": "events", "type": "quantitative", "title": null}, "text": {"field": "note", "type": "nominal"}}}
       ]}
      ]},
      {"spacing": 26, "hconcat": [
       {"width": 122, "height": 121, "view": {"stroke": "#5c5cd6", "strokeWidth": 1}, "title": {"text": "D", "anchor": "start", "frame": "group", "dx": -13, "offset": 4.5, "fontSize": 15, "fontWeight": "normal", "font": "Liberation Sans", "color": "black"}, "layer": [
        {"data": {"name": "hist"}, "transform": [{"filter": "datum.panel == 'D1'"}], "mark": {"type": "line", "strokeWidth": 1}, "encoding": {
          "x": {"field": "fi", "type": "quantitative", "title": null, "scale": {"domain": [1, 7.2], "nice": false, "zero": false}, "axis": {"title": null, "tickCount": 200, "labelOverlap": false, "labelFlush": false, "labelBound": false, "values": [1,1.301,1.477,1.602,1.699,1.778,1.845,1.903,1.954,2,2.301,2.477,2.602,2.699,2.778,2.845,2.903,2.954,3,3.301,3.477,3.602,3.699,3.778,3.845,3.903,3.954,4,4.301,4.477,4.602,4.699,4.778,4.845,4.903,4.954,5,5.301,5.477,5.602,5.699,5.778,5.845,5.903,5.954,6,6.301,6.477,6.602,6.699,6.778,6.845,6.903,6.954,7,7.2], "labelExpr": "datum.value == 1 ? '10¹' : datum.value == 2 ? '10²' : datum.value == 3 ? '10³' : datum.value == 4 ? '10⁴' : datum.value == 5 ? '10⁵' : datum.value == 6 ? '10⁶' : datum.value == 7.2 ? '10⁷·²' : ''"}},
          "y": {"field": "events", "type": "quantitative", "title": null, "scale": {"domain": [0, 800], "nice": false}, "axis": {"title": null, "tickCount": 200, "labelOverlap": false, "labelFlush": false, "values": [0, 200, 400, 600, 800]}},
          "color": {"field": "stain", "type": "nominal", "scale": {"domain": ["control", "target"], "range": ["#2626c9", "#e2424b"]}, "legend": null}}},
        {"data": {"name": "gates"}, "transform": [{"filter": "datum.panel == 'D1'"}], "mark": {"type": "rule", "color": "#555555", "strokeWidth": 1.3}, "encoding": {"x": {"field": "from", "type": "quantitative", "title": null}, "x2": {"field": "to"}, "y": {"field": "events", "type": "quantitative", "title": null}}},
        {"data": {"name": "gates"}, "transform": [{"filter": "datum.panel == 'D1'"}], "mark": {"type": "tick", "orient": "vertical", "size": 9, "thickness": 1.3, "color": "#555555", "opacity": 1}, "encoding": {"x": {"field": "from", "type": "quantitative", "title": null}, "y": {"field": "events", "type": "quantitative", "title": null}}},
        {"data": {"name": "gates"}, "transform": [{"filter": "datum.panel == 'D1'"}], "mark": {"type": "tick", "orient": "vertical", "size": 9, "thickness": 1.3, "color": "#555555", "opacity": 1}, "encoding": {"x": {"field": "to", "type": "quantitative", "title": null}, "y": {"field": "events", "type": "quantitative", "title": null}}},
        {"data": {"name": "notes"}, "transform": [{"filter": "datum.panel == 'D1'"}], "mark": {"type": "text", "font": "Liberation Sans", "fontSize": 8.7, "color": "#333333"}, "encoding": {"x": {"field": "fi", "type": "quantitative", "title": null}, "y": {"field": "events", "type": "quantitative", "title": null}, "text": {"field": "note", "type": "nominal"}}}
       ]},
       {"width": 124, "height": 122, "view": {"stroke": "#5c5cd6", "strokeWidth": 1}, "layer": [
        {"data": {"name": "hist"}, "transform": [{"filter": "datum.panel == 'D2'"}], "mark": {"type": "line", "strokeWidth": 1}, "encoding": {
          "x": {"field": "fi", "type": "quantitative", "title": null, "scale": {"domain": [1, 7.2], "nice": false, "zero": false}, "axis": {"title": null, "tickCount": 200, "labelOverlap": false, "labelFlush": false, "labelBound": false, "values": [1,1.301,1.477,1.602,1.699,1.778,1.845,1.903,1.954,2,2.301,2.477,2.602,2.699,2.778,2.845,2.903,2.954,3,3.301,3.477,3.602,3.699,3.778,3.845,3.903,3.954,4,4.301,4.477,4.602,4.699,4.778,4.845,4.903,4.954,5,5.301,5.477,5.602,5.699,5.778,5.845,5.903,5.954,6,6.301,6.477,6.602,6.699,6.778,6.845,6.903,6.954,7,7.2], "labelExpr": "datum.value == 1 ? '10¹' : datum.value == 2 ? '10²' : datum.value == 3 ? '10³' : datum.value == 4 ? '10⁴' : datum.value == 5 ? '10⁵' : datum.value == 6 ? '10⁶' : datum.value == 7.2 ? '10⁷·²' : ''"}},
          "y": {"field": "events", "type": "quantitative", "title": null, "scale": {"domain": [0, 400], "nice": false}, "axis": {"title": null, "tickCount": 200, "labelOverlap": false, "labelFlush": false, "values": [0, 100, 200, 300, 400]}},
          "color": {"field": "stain", "type": "nominal", "scale": {"domain": ["control", "target"], "range": ["#2626c9", "#e2424b"]}, "legend": null}}},
        {"data": {"name": "gates"}, "transform": [{"filter": "datum.panel == 'D2'"}], "mark": {"type": "rule", "color": "#555555", "strokeWidth": 1.3}, "encoding": {"x": {"field": "from", "type": "quantitative", "title": null}, "x2": {"field": "to"}, "y": {"field": "events", "type": "quantitative", "title": null}}},
        {"data": {"name": "gates"}, "transform": [{"filter": "datum.panel == 'D2'"}], "mark": {"type": "tick", "orient": "vertical", "size": 9, "thickness": 1.3, "color": "#555555", "opacity": 1}, "encoding": {"x": {"field": "from", "type": "quantitative", "title": null}, "y": {"field": "events", "type": "quantitative", "title": null}}},
        {"data": {"name": "gates"}, "transform": [{"filter": "datum.panel == 'D2'"}], "mark": {"type": "tick", "orient": "vertical", "size": 9, "thickness": 1.3, "color": "#555555", "opacity": 1}, "encoding": {"x": {"field": "to", "type": "quantitative", "title": null}, "y": {"field": "events", "type": "quantitative", "title": null}}},
        {"data": {"name": "notes"}, "transform": [{"filter": "datum.panel == 'D2'"}], "mark": {"type": "text", "font": "Liberation Sans", "fontSize": 8.7, "color": "#333333"}, "encoding": {"x": {"field": "fi", "type": "quantitative", "title": null}, "y": {"field": "events", "type": "quantitative", "title": null}, "text": {"field": "note", "type": "nominal"}}}
       ]}
      ]}
     ]}
    ]}
   ]},
   {"width": 341, "height": 22, "data": {"values": [{}]}, "layer": [
     {"mark": {"type": "rule", "color": "black", "strokeWidth": 2}, "encoding": {"x": {"datum": -0.003, "type": "quantitative", "scale": {"domain": [0, 1]}, "axis": null}, "x2": {"datum": 0.985}, "y": {"datum": 1, "type": "quantitative", "scale": {"domain": [0, 1]}, "axis": null}}},
     {"mark": {"type": "point", "shape": "triangle-right", "filled": true, "size": 55, "color": "black", "opacity": 1}, "encoding": {"x": {"datum": 0.985, "type": "quantitative", "axis": null}, "y": {"datum": 1, "type": "quantitative", "axis": null}}},
     {"mark": {"type": "text", "text": "Fluorescence Intensity", "font": "Lato", "fontWeight": "bold", "fontSize": 18, "baseline": "bottom", "color": "black"}, "encoding": {"x": {"datum": 0.49, "type": "quantitative", "axis": null}, "y": {"datum": 0, "type": "quantitative", "axis": null}}}
   ]}
  ]}
 ]}
]},
{"spacing": 0, "hconcat": [
 {"width": 117, "height": 5, "data": {"values": []}, "mark": "point"},
 {"width": 488, "height": 131, "data": {"name": "table"}, "layer": [
   {"mark": {"type": "rect", "stroke": "black", "strokeWidth": 1.4}, "encoding": {
     "x": {"field": "c0", "type": "quantitative", "scale": {"domain": [0, 4], "nice": false}, "axis": null}, "x2": {"field": "c1"},
     "y": {"field": "r0", "type": "quantitative", "scale": {"domain": [0, 5], "nice": false, "reverse": true}, "axis": null}, "y2": {"field": "r1"},
     "fill": {"field": "kind", "type": "nominal", "scale": {"domain": ["blank", "head", "target", "surface", "surfaceValue", "intra", "intraValue"], "range": ["#ffffff", "#a5a5a5", "#92cddc", "#d9d9d9", "#d9d9d9", "#ffffff", "#ffffff"]}, "legend": null}}},
   {"transform": [{"filter": "datum.kind == 'head' || datum.kind == 'target' || datum.kind == 'surface' || datum.kind == 'intra'"}], "mark": {"type": "text", "font": "Lato", "fontWeight": "bold", "fontSize": 13, "color": "#222222"}, "encoding": {"x": {"field": "cm", "type": "quantitative", "axis": null}, "y": {"field": "rm", "type": "quantitative", "axis": null}, "text": {"field": "label", "type": "nominal"}}},
   {"transform": [{"filter": "datum.kind == 'surfaceValue' || datum.kind == 'intraValue'"}], "mark": {"type": "text", "font": "Lato", "fontSize": 13, "color": "#222222"}, "encoding": {"x": {"field": "cm", "type": "quantitative", "axis": null}, "y": {"field": "rm", "type": "quantitative", "axis": null}, "text": {"field": "label", "type": "nominal"}}}
 ]}
]}
]
}
